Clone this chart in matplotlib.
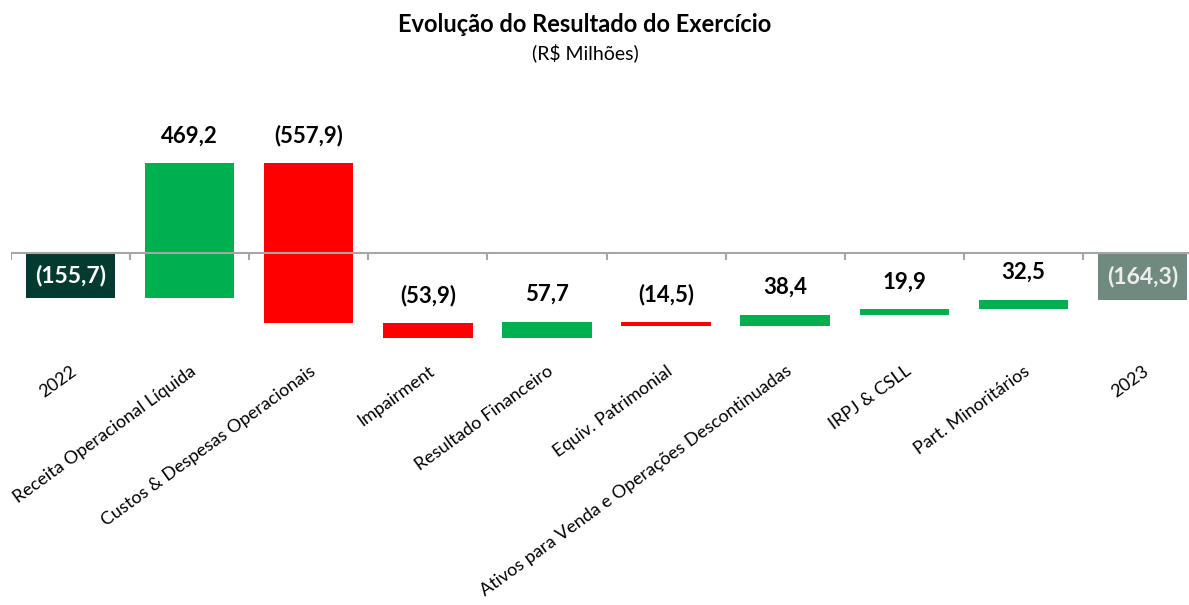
import matplotlib.pyplot as plt
import numpy as np

plt.rcParams['font.family'] = ['Lato', 'DejaVu Sans']

# dados (R$ milhões)
categorias = ['2022', 'Receita Operacional Líquida', 'Custos & Despesas Operacionais',
              'Impairment', 'Resultado Financeiro', 'Equiv. Patrimonial',
              'Ativos para Venda e Operações Descontinuadas', 'IRPJ & CSLL',
              'Part. Minoritários', '2023']
valores = [-155.7, 469.2, -557.9, -53.9, 57.7, -14.5, 38.4, 19.9, 32.5, -164.3]
totais = [True, False, False, False, False, False, False, False, False, True]


def fmt(v):
    s = f'{abs(v):.1f}'.replace('.', ',')
    return f'({s})' if v < 0 else s


# base de cada barra da cascata
bases = []
alturas = []
acum = 0.0
for v, t in zip(valores, totais):
    if t:
        bases.append(0.0)
        alturas.append(v)
        acum = v
    else:
        bases.append(acum)
        alturas.append(v)
        acum += v

cores = []
for v, t, i in zip(valores, totais, range(len(valores))):
    if t:
        cores.append('#033B30' if i == 0 else '#718A80')
    else:
        cores.append('#00B050' if v > 0 else '#FF0000')

fig = plt.figure(figsize=(11.89, 6.05), dpi=100)
ax = fig.add_axes([11 / 1189, 0.4258, 1191 / 1189, 0.3451])

x = np.arange(len(categorias))
ax.bar(x, alturas, bottom=bases, width=0.75, color=cores, zorder=2)

# linha do eixo e marcas entre categorias
ax.axhline(0, color='#A6A6A6', lw=1.5, zorder=3)
ax.vlines(np.arange(len(categorias) + 1) - 0.5, -24, 0, color='#A6A6A6', lw=1.5, zorder=3)

for i, (v, t) in enumerate(zip(valores, totais)):
    if t:
        ax.text(i, v / 2, fmt(v), ha='center', va='center', fontsize=16.5,
                fontweight='bold', color='white' if i == 0 else '#EDEDED', zorder=4)
    else:
        topo = max(bases[i], bases[i] + v)
        ax.annotate(fmt(v), (i, topo), xytext=(0, 15), textcoords='offset points',
                    ha='center', va='baseline', fontsize=16, fontweight='bold', zorder=4)

ax.set_xlim(-0.5, len(categorias) - 0.5)
ax.set_ylim(-330, 400)
ax.set_yticks([])
ax.set_xticks(x)
ax.set_xticklabels(categorias, rotation=36, ha='right', rotation_mode='anchor', fontsize=13)
ax.tick_params(axis='x', length=0, pad=11)
for s in ax.spines.values():
    s.set_visible(False)

fig.text(585 / 1189, 1 - 24 / 605, 'Evolução do Resultado do Exercício', ha='center', va='center',
         fontsize=17, fontweight='bold')
fig.text(585 / 1189, 1 - 53 / 605, '(R$ Milhões)', ha='center', va='center', fontsize=14)

fig.savefig('out.png', dpi=100)
